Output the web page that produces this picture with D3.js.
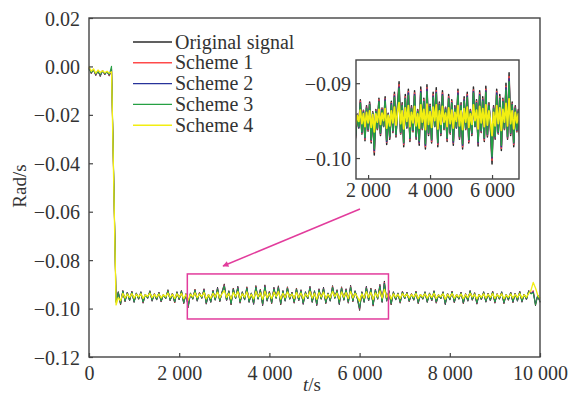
<!DOCTYPE html>
<html>
<head>
<meta charset="utf-8">
<script src="https://cdn.jsdelivr.net/npm/d3@7"></script>
<style>
  html, body { margin: 0; padding: 0; background: #fff; }
  svg { display: block; font-family: "Liberation Serif", "Times New Roman", serif; }
</style>
</head>
<body>
<svg id="chart" width="568" height="396"></svg>
<script>
'use strict';

// sample spacing of the recorded signal, seconds
const sampleStep = 50;

// all series below are in units of 1e-4 rad/s, one value every 50 s (t = 0 … 10 000 s)
const originalSignal = [
  -5, -30, -12, -38, -18, -42, -15, -35, -20, -40, -10, -480, -975,
  -930, -985, -925, -972, -932, -968, -928, -975,
  -935, -962, -930, -978, -940, -958, -926, -970, -938, -965,
  -932, -973, -941, -960, -922, -968, -936, -977, -930, -964,
  -925, -980, -938, -996, -935, -962, -920, -970, -933, -958,
  -918, -982, -940, -975, -924, -966, -912, -972, -930, -898,
  -968, -926, -985, -915, -960, -908, -978, -930, -965, -910,
  -975, -935, -983, -905, -962, -920, -988, -902, -970, -928,
  -980, -912, -958, -906, -985, -925, -970, -910, -962, -932,
  -978, -915, -968, -922, -983, -930, -960, -908, -975, -926,
  -988, -918, -962, -912, -980, -935, -970, -905, -958, -922,
  -984, -910, -966, -918, -978, -904, -972, -926, -960, -1008,
  -930, -975, -908, -968, -915, -990, -920, -962, -900, -975,
  -886, -970, -925, -985, -930, -965, -935, -978, -928, -960,
  -932, -972, -938, -966, -928, -980, -940, -962, -930, -975,
  -935, -968, -926, -978, -942, -960, -930, -984, -936, -965,
  -928, -976, -940, -962, -932, -980, -938, -970, -925, -966,
  -934, -982, -940, -964, -930, -974, -936, -968, -928, -978,
  -938, -962, -930, -980, -942, -966, -932, -976, -936, -970,
  -928, -974, -940, -964, -925, -940, -930, -988, -945, -975
];

const scheme1 = [
  -8, -28, -14, -36, -20, -40, -17, -33, -22, -38, -12, -490, -970,
  -932, -982, -927, -970, -933, -967, -930, -973,
  -936, -961, -932, -976, -941, -957, -928, -968, -939, -964,
  -933, -971, -942, -959, -924, -967, -937, -975, -932, -963,
  -927, -978, -939, -992, -936, -961, -922, -968, -934, -957,
  -921, -979, -941, -973, -926, -965, -915, -970, -932, -902,
  -967, -928, -982, -918, -959, -911, -976, -932, -964, -913,
  -973, -936, -980, -909, -961, -922, -985, -906, -968, -930,
  -978, -915, -957, -910, -982, -927, -968, -913, -961, -933,
  -976, -918, -967, -924, -980, -932, -959, -911, -973, -928,
  -985, -921, -961, -915, -978, -936, -968, -909, -957, -924,
  -981, -913, -965, -921, -976, -908, -970, -928, -959, -1003,
  -932, -973, -911, -967, -918, -987, -922, -961, -904, -973,
  -891, -968, -927, -982, -932, -964, -936, -976, -930, -959,
  -933, -970, -939, -965, -930, -978, -941, -961, -932, -973,
  -936, -967, -928, -976, -943, -959, -932, -981, -937, -964,
  -930, -974, -941, -961, -933, -978, -939, -968, -927, -965,
  -935, -979, -941, -963, -932, -972, -937, -967, -930, -976,
  -939, -961, -932, -978, -943, -965, -933, -974, -937, -968,
  -930, -972, -941, -963, -927, -935, -925, -982, -945, -973
];

const scheme2 = [
  -10, -27, -15, -34, -21, -38, -19, -32, -23, -36, -14, -485, -968,
  -933, -980, -928, -969, -934, -966, -931, -972,
  -937, -960, -933, -974, -941, -957, -929, -967, -940, -963,
  -934, -970, -942, -959, -926, -966, -938, -973, -933, -962,
  -928, -976, -940, -990, -937, -960, -924, -967, -935, -957,
  -922, -978, -941, -972, -927, -964, -917, -969, -933, -905,
  -966, -929, -980, -920, -959, -913, -974, -933, -963, -915,
  -972, -937, -979, -911, -960, -924, -983, -908, -967, -931,
  -976, -917, -957, -912, -980, -928, -967, -915, -960, -934,
  -974, -920, -966, -926, -979, -933, -959, -913, -972, -929,
  -983, -922, -960, -917, -976, -937, -967, -911, -957, -926,
  -980, -915, -964, -922, -974, -910, -969, -929, -959, -1000,
  -933, -972, -913, -966, -920, -985, -924, -960, -906, -972,
  -894, -967, -928, -980, -933, -963, -937, -974, -931, -959,
  -934, -969, -940, -964, -931, -976, -941, -960, -933, -972,
  -937, -966, -929, -974, -943, -959, -933, -980, -938, -963,
  -931, -973, -941, -960, -934, -976, -940, -967, -928, -964,
  -936, -978, -941, -962, -933, -971, -938, -966, -931, -974,
  -940, -960, -933, -976, -943, -964, -934, -973, -938, -967,
  -931, -971, -941, -962, -928, -938, -930, -980, -946, -972
];

const scheme3 = [
  -12, -26, -16, -32, -22, -36, -20, -30, -24, -34, 2, -470, -972,
  -934, -979, -929, -968, -935, -965, -932, -971,
  -938, -960, -934, -973, -942, -957, -930, -966, -940, -962,
  -935, -969, -943, -958, -927, -965, -939, -972, -934, -961,
  -929, -975, -940, -988, -938, -960, -925, -966, -936, -957,
  -924, -976, -942, -971, -929, -963, -919, -968, -934, -907,
  -965, -930, -979, -921, -958, -916, -973, -934, -962, -917,
  -971, -938, -977, -913, -960, -925, -981, -911, -966, -932,
  -975, -919, -957, -914, -979, -929, -966, -917, -960, -935,
  -973, -921, -965, -927, -977, -934, -958, -916, -971, -930,
  -981, -924, -960, -919, -975, -938, -966, -913, -957, -927,
  -978, -917, -963, -924, -973, -912, -968, -930, -958, -998,
  -934, -971, -916, -965, -921, -983, -925, -960, -909, -971,
  -898, -966, -929, -979, -934, -962, -938, -973, -932, -958,
  -935, -968, -940, -963, -932, -975, -942, -960, -934, -971,
  -938, -965, -930, -973, -943, -958, -934, -978, -939, -962,
  -932, -971, -942, -960, -935, -975, -940, -966, -929, -963,
  -937, -976, -942, -961, -934, -970, -939, -965, -932, -973,
  -940, -960, -934, -975, -943, -963, -935, -971, -939, -966,
  -932, -970, -942, -961, -929, -940, -935, -985, -946, -971
];

const scheme4 = [
  0, -20, -10, -28, -15, -25, -18, -26, -20, -28, -22, -500, -985,
  -955, -968, -937, -956, -940, -954, -938, -957,
  -941, -952, -939, -958, -943, -950, -937, -955, -942, -953,
  -940, -956, -943, -951, -936, -954, -941, -958, -939, -953,
  -937, -959, -942, -965, -941, -952, -935, -955, -940, -950,
  -934, -960, -943, -957, -937, -953, -932, -956, -939, -926,
  -954, -937, -961, -933, -951, -930, -958, -939, -953, -931,
  -957, -941, -960, -929, -952, -935, -962, -928, -955, -938,
  -959, -932, -950, -929, -961, -937, -955, -931, -952, -940,
  -958, -933, -954, -936, -960, -939, -951, -930, -957, -937,
  -962, -934, -952, -932, -959, -941, -955, -929, -950, -936,
  -961, -931, -953, -934, -958, -929, -956, -937, -951, -970,
  -939, -957, -930, -954, -933, -963, -935, -952, -927, -957,
  -921, -954, -937, -961, -939, -953, -941, -958, -938, -951,
  -940, -956, -942, -953, -938, -959, -943, -952, -939, -957,
  -941, -954, -937, -958, -944, -951, -939, -961, -941, -953,
  -938, -957, -943, -952, -940, -959, -942, -955, -937, -953,
  -941, -960, -943, -953, -939, -957, -941, -954, -938, -958,
  -942, -952, -939, -959, -944, -953, -940, -957, -941, -955,
  -938, -957, -943, -953, -937, -925, -892, -915, -945, -958
];
const valueUnit = 1e-4;

const seriesNames  = ['Original signal', 'Scheme 1', 'Scheme 2', 'Scheme 3', 'Scheme 4'];
const seriesValues = [originalSignal, scheme1, scheme2, scheme3, scheme4];
const seriesColors = ['#2b2b2b', '#ff4a4a', '#27339a', '#25a043', '#f2ee12'];

// axes
const xDomain = [0, 10000];
const yDomain = [-0.12, 0.02];
const xTicks = [0, 2000, 4000, 6000, 8000, 10000];
const yTicks = [-0.12, -0.10, -0.08, -0.06, -0.04, -0.02, 0.00, 0.02];

// zoomed region (pink box) and inset axes
const boxTime  = [2180, 6640];
const boxValue = [-0.1043, -0.0857];
const insetXDomain = [1610, 6870];
const insetYDomain = [-0.1028, -0.0869];
const insetXTicks = [2000, 4000, 6000];
const insetYTicks = [-0.09, -0.10];

const svg = d3.select('#chart');
svg.append('rect').attr('width', 568).attr('height', 396).attr('fill', '#fff');

const x = d3.scaleLinear().domain(xDomain).range([89, 540]);
const y = d3.scaleLinear().domain(yDomain).range([357, 18]);

const fmtT = v => d3.format(',')(v).replace(/,/g, ' ');
const fmtV = v => d3.format('.2f')(v).replace('-', '\u2212');

const axisCol = '#444';
const fontSize = 20;

// ── main plot lines
const lineMain = d3.line()
  .x((d, i) => x(i * sampleStep))
  .y(d => y(d * valueUnit));

const gMain = svg.append('g');
seriesValues.forEach((vals, k) => {
  gMain.append('path')
    .datum(vals)
    .attr('d', lineMain)
    .attr('fill', 'none')
    .attr('stroke', seriesColors[k])
    .attr('stroke-width', k === 4 ? 1.3 : 1)
    .attr('stroke-linejoin', 'round');
});

// frame
svg.append('rect')
  .attr('x', x(xDomain[0])).attr('y', y(yDomain[1]))
  .attr('width', x(xDomain[1]) - x(xDomain[0]))
  .attr('height', y(yDomain[0]) - y(yDomain[1]))
  .attr('fill', 'none').attr('stroke', axisCol).attr('stroke-width', 1.4);

// bottom axis (ticks inward)
const xAxis = d3.axisBottom(x).tickValues(xTicks).tickSize(-4).tickFormat(fmtT).tickSizeOuter(0);
const gx = svg.append('g').attr('transform', `translate(0,${y(yDomain[0])})`).call(xAxis);
gx.select('.domain').remove();
gx.selectAll('line').attr('stroke', axisCol).attr('stroke-width', 1.2);
gx.selectAll('text')
  .attr('y', 23).attr('dy', 0)
  .attr('font-size', fontSize).attr('font-family', 'Liberation Serif').attr('fill', '#333');

const yAxis = d3.axisLeft(y).tickValues(yTicks).tickSize(-4).tickFormat(fmtV).tickSizeOuter(0);
const gy = svg.append('g').attr('transform', `translate(${x(xDomain[0])},0)`).call(yAxis);
gy.select('.domain').remove();
gy.selectAll('line').attr('stroke', axisCol).attr('stroke-width', 1.2);
gy.selectAll('text')
  .attr('x', -9).attr('dy', '0.35em')
  .attr('font-size', fontSize).attr('font-family', 'Liberation Serif').attr('fill', '#333');

// axis titles
svg.append('text')
  .attr('transform', 'translate(26,186) rotate(-90)')
  .attr('text-anchor', 'middle')
  .attr('font-size', 19).attr('fill', '#333')
  .text('Rad/s');

const tLabel = svg.append('text')
  .attr('x', 312).attr('y', 391)
  .attr('text-anchor', 'middle')
  .attr('font-size', 19).attr('fill', '#333');
tLabel.append('tspan').attr('font-style', 'italic').text('t');
tLabel.append('tspan').text('/s');

// legend
const legend = svg.append('g');
seriesNames.forEach((name, k) => {
  const ly = 42 + k * 20.8;
  legend.append('line')
    .attr('x1', 133).attr('x2', 172).attr('y1', ly).attr('y2', ly)
    .attr('stroke', seriesColors[k]).attr('stroke-width', 1.4);
  legend.append('text')
    .attr('x', 175).attr('y', ly).attr('dy', '0.33em')
    .attr('font-size', 20).attr('fill', '#333')
    .text(name);
});

// pink box + arrow
const pink = '#e23c9c';
svg.append('rect')
  .attr('x', x(boxTime[0])).attr('y', y(boxValue[1]))
  .attr('width', x(boxTime[1]) - x(boxTime[0]))
  .attr('height', y(boxValue[0]) - y(boxValue[1]))
  .attr('fill', 'none').attr('stroke', pink).attr('stroke-width', 1.5);

svg.append('defs').append('marker')
  .attr('id', 'arrowHead')
  .attr('viewBox', '0 0 10 10').attr('refX', 9).attr('refY', 5)
  .attr('markerWidth', 8).attr('markerHeight', 6)
  .attr('markerUnits', 'userSpaceOnUse')
  .attr('orient', 'auto')
  .append('path').attr('d', 'M0,0 L10,5 L0,10 z').attr('fill', pink);

svg.append('line')
  .attr('x1', 360).attr('y1', 209).attr('x2', 223).attr('y2', 266)
  .attr('stroke', pink).attr('stroke-width', 1.5)
  .attr('marker-end', 'url(#arrowHead)');

// ── inset
const xi = d3.scaleLinear().domain(insetXDomain).range([356, 519]);
const yi = d3.scaleLinear().domain(insetYDomain).range([179, 60]);

svg.append('clipPath').attr('id', 'insetClip')
  .append('rect').attr('x', 356).attr('y', 60).attr('width', 163).attr('height', 119);

svg.append('rect')
  .attr('x', 356).attr('y', 60).attr('width', 163).attr('height', 119)
  .attr('fill', '#fff');

const lineInset = d3.line()
  .x((d, i) => xi(i * sampleStep))
  .y(d => yi(d * valueUnit));

const gInset = svg.append('g').attr('clip-path', 'url(#insetClip)');
seriesValues.forEach((vals, k) => {
  gInset.append('path')
    .datum(vals)
    .attr('d', lineInset)
    .attr('fill', 'none')
    .attr('stroke', seriesColors[k])
    .attr('stroke-width', k === 4 ? 1.8 : 1.5)
    .attr('stroke-linejoin', 'round');
});

svg.append('rect')
  .attr('x', 356).attr('y', 60).attr('width', 163).attr('height', 119)
  .attr('fill', 'none').attr('stroke', axisCol).attr('stroke-width', 1.4);

const gxi = svg.append('g').attr('transform', 'translate(0,179)')
  .call(d3.axisBottom(xi).tickValues(insetXTicks).tickSize(-4).tickFormat(fmtT).tickSizeOuter(0));
gxi.select('.domain').remove();
gxi.selectAll('line').attr('stroke', axisCol).attr('stroke-width', 1.2);
gxi.selectAll('text')
  .attr('y', 18).attr('dy', 0)
  .attr('font-size', fontSize).attr('font-family', 'Liberation Serif').attr('fill', '#333');

const gyi = svg.append('g').attr('transform', 'translate(356,0)')
  .call(d3.axisLeft(yi).tickValues(insetYTicks).tickSize(-4).tickFormat(fmtV).tickSizeOuter(0));
gyi.select('.domain').remove();
gyi.selectAll('line').attr('stroke', axisCol).attr('stroke-width', 1.2);
gyi.selectAll('text')
  .attr('x', -5).attr('dy', '0.35em')
  .attr('font-size', fontSize).attr('font-family', 'Liberation Serif').attr('fill', '#333');
</script>
</body>
</html>
